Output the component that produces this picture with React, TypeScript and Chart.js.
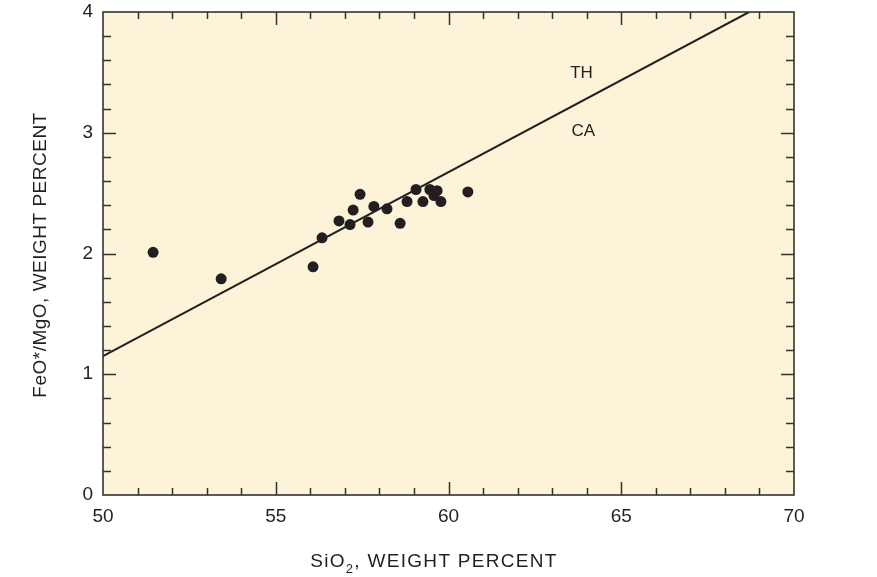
import React, { useEffect, useRef } from "react";
import { Chart, registerables } from "chart.js";

Chart.register(...registerables);

const sio2 = [51.45, 53.42, 56.08, 56.34, 56.83, 57.15, 57.24, 57.44, 57.67, 57.84, 58.22, 58.6, 58.8, 59.06, 59.26, 59.46, 59.58, 59.67, 59.78, 60.56];
const feoMgo = [2.01, 1.79, 1.89, 2.13, 2.27, 2.24, 2.36, 2.49, 2.26, 2.39, 2.37, 2.25, 2.43, 2.53, 2.43, 2.53, 2.48, 2.52, 2.43, 2.51];
const dividerX = [50, 68.7];
const dividerY = [1.15, 4];
const fieldLabels = ["TH", "CA"];
const fieldLabelX = [63.85, 63.9];
const fieldLabelY = [3.49, 3.01];
const xRange = [50, 70];
const yRange = [0, 4];
const xMajorStep = 5;
const xMinorStep = 1;
const yMajorStep = 1;
const yMinorStep = 0.2;

const INK = "#231f20";
const FONT = "'Liberation Sans', Arial, Helvetica, sans-serif";
const TICK_SIZE = 19;
const LABEL_SIZE = 17;
const TITLE_SIZE = 19;

const framePlugin = {
  id: "frame",
  beforeDraw(chart: any) {
    const { ctx, chartArea: a } = chart;
    ctx.save();
    ctx.fillStyle = "#fdf3d9";
    ctx.fillRect(a.left, a.top, a.right - a.left, a.bottom - a.top);
    ctx.restore();
  },
  afterDraw(chart: any) {
    const { ctx, chartArea: a, scales } = chart;
    const xs = scales.x;
    const ys = scales.y;
    ctx.save();
    ctx.strokeStyle = "#333";
    ctx.lineWidth = 1.5;
    const eps = 1e-6;
    for (let v = xRange[0]; v <= xRange[1] + eps; v += xMinorStep) {
      const isMajor = Math.abs(v / xMajorStep - Math.round(v / xMajorStep)) < eps;
      if (v <= xRange[0] + eps || v >= xRange[1] - eps) continue;
      const len = isMajor ? 13 : 7;
      const px = Math.round(xs.getPixelForValue(v)) + 0.5;
      ctx.beginPath();
      ctx.moveTo(px, a.bottom);
      ctx.lineTo(px, a.bottom - len);
      ctx.moveTo(px, a.top);
      ctx.lineTo(px, a.top + len);
      ctx.stroke();
    }
    for (let v = yRange[0]; v <= yRange[1] + eps; v += yMinorStep) {
      const isMajor = Math.abs(v / yMajorStep - Math.round(v / yMajorStep)) < eps;
      if (v <= yRange[0] + eps || v >= yRange[1] - eps) continue;
      const len = isMajor ? 13 : 8;
      const py = Math.round(ys.getPixelForValue(v)) + 0.5;
      ctx.beginPath();
      ctx.moveTo(a.left, py);
      ctx.lineTo(a.left + len, py);
      ctx.moveTo(a.right, py);
      ctx.lineTo(a.right - len, py);
      ctx.stroke();
    }
    ctx.lineWidth = 1.6;
    ctx.strokeRect(a.left, a.top, a.right - a.left, a.bottom - a.top);

    ctx.fillStyle = INK;
    ctx.font = `${LABEL_SIZE}px ${FONT}`;
    ctx.textAlign = "center";
    ctx.textBaseline = "middle";
    fieldLabels.forEach((t, i) => {
      ctx.fillText(t, xs.getPixelForValue(fieldLabelX[i]), ys.getPixelForValue(fieldLabelY[i]));
    });

    // x title with subscript
    const y0 = 562;
    const p1 = "SiO";
    const sub = "2";
    const p2 = ", WEIGHT PERCENT";
    (ctx as any).letterSpacing = "1.3px";
    ctx.font = `${TITLE_SIZE}px ${FONT}`;
    const w1 = ctx.measureText(p1).width;
    const w3 = ctx.measureText(p2).width;
    ctx.font = `13px ${FONT}`;
    const w2 = ctx.measureText(sub).width;
    const total = w1 + w2 + w3;
    const x0 = 434 - total / 2;
    ctx.textAlign = "left";
    ctx.textBaseline = "middle";
    ctx.font = `${TITLE_SIZE}px ${FONT}`;
    ctx.fillText(p1, x0, y0);
    ctx.font = `13px ${FONT}`;
    ctx.fillText(sub, x0 + w1, y0 + 7);
    ctx.font = `${TITLE_SIZE}px ${FONT}`;
    ctx.fillText(p2, x0 + w1 + w2, y0);

    // y title
    (ctx as any).letterSpacing = "0.5px";
    ctx.save();
    ctx.translate(41, 255);
    ctx.rotate(-Math.PI / 2);
    ctx.textAlign = "center";
    ctx.textBaseline = "middle";
    ctx.font = `${TITLE_SIZE}px ${FONT}`;
    ctx.fillText("FeO*/MgO, WEIGHT PERCENT", 0, 0);
    ctx.restore();
    (ctx as any).letterSpacing = "0px";
    ctx.restore();
  },
};

export default function App() {
  const ref = useRef<HTMLCanvasElement>(null);
  useEffect(() => {
    if (!ref.current) return;
    const chart = new Chart(ref.current, {
      type: "scatter",
      data: {
        datasets: [
          {
            type: "line",
            data: dividerX.map((x, i) => ({ x, y: dividerY[i] })),
            borderColor: INK,
            borderWidth: 2,
            pointRadius: 0,
            fill: false,
          },
          {
            type: "scatter",
            data: sio2.map((x, i) => ({ x, y: feoMgo[i] })),
            backgroundColor: INK,
            borderColor: INK,
            pointRadius: 5.5,
            borderWidth: 0,
          },
        ],
      } as any,
      options: {
        responsive: false,
        animation: false,
        devicePixelRatio: 1,
        layout: { padding: { left: 0, top: 12, right: 83, bottom: 0 } },
        plugins: { legend: { display: false }, tooltip: { enabled: false } },
        scales: {
          x: {
            type: "linear",
            min: xRange[0],
            max: xRange[1],
            grid: { display: false, drawTicks: false },
            border: { display: false },
            ticks: {
              stepSize: xMajorStep,
              padding: 10,
              color: INK,
              font: { size: TICK_SIZE, family: FONT },
            },
            afterFit(scale: any) {
              scale.height = 82;
              scale.paddingLeft = 0;
              scale.paddingRight = 0;
            },
          },
          y: {
            type: "linear",
            min: yRange[0],
            max: yRange[1],
            grid: { display: false, drawTicks: false },
            border: { display: false },
            ticks: {
              stepSize: yMajorStep,
              padding: 10,
              color: INK,
              font: { size: TICK_SIZE, family: FONT },
            },
            afterFit(scale: any) {
              scale.width = 103;
              scale.paddingTop = 0;
              scale.paddingBottom = 0;
            },
          },
        },
      } as any,
      plugins: [framePlugin],
    });
    return () => chart.destroy();
  }, []);
  return (
    <div style={{ position: "absolute", left: 0, top: 0, width: 877, height: 577, background: "#fff" }}>
      <canvas ref={ref} width={877} height={577} style={{ display: "block" }} />
    </div>
  );
}
